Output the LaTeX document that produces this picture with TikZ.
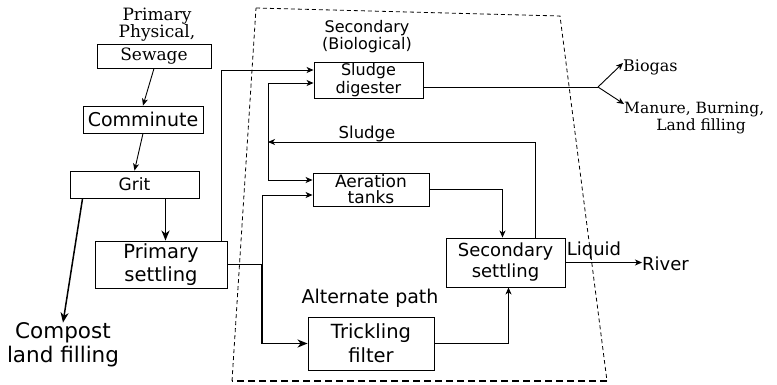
\documentclass[tikz,border=0pt]{standalone}
\usepackage{fontspec}
\setmainfont{DejaVu Sans}
\newfontfamily\serf{DejaVu Serif}
\usetikzlibrary{arrows.meta,calc}
\newcommand\fsz[2]{\fontsize{#1}{#2}\selectfont}
\begin{document}
\begin{tikzpicture}[x=1pt,y=-1pt,
  box/.style={draw,line width=0.9pt,inner sep=0pt,align=center},
  lbl/.style={inner sep=0pt,align=center},
  ln/.style={line width=0.9pt},
  arr/.style={ln,-{Stealth[length=7pt,width=6pt,inset=2pt]}},
  arrthick/.style={line width=1.5pt,-{Stealth[length=10pt,width=8pt,inset=3pt]}},
  bord/.style={line width=0.8pt,dash pattern=on 4pt off 3pt}]
\useasboundingbox (0,0) rectangle (777,384);

% dashed secondary region
\draw[bord] (256,8) -- (560,16) -- (607,381);
\draw[bord] (232,381) -- (256,8);
\draw[line width=1.6pt,dash pattern=on 7pt off 4pt] (607,381) -- (232,381);

% labels
\node[lbl,font=\serf\fsz{17}{17}] (pp) at (157,25) {Primary\\Physical,};
\node[lbl,font=\fsz{16}{17}] (sec) at (367,37) {Secondary\\(Biological)};
\node[lbl,font=\fsz{16.5}{18}] (slab) at (367,134) {Sludge};
\node[lbl,font=\fsz{19}{21}] (alt) at (370,298) {Alternate path};
\node[lbl,font=\fsz{18}{20}] (liq) at (594,251) {Liquid};
\node[lbl,font=\fsz{18}{20},anchor=west] (riv) at (642,264) {River};
\node[lbl,font=\serf\fsz{16}{17},anchor=west] (bio) at (623,67) {Biogas};
\node[lbl,font=\serf\fsz{15.5}{16},anchor=west] (man1) at (624,110) {Manure, Burning,};
\node[lbl,font=\serf\fsz{15.5}{16}] (man2) at (701,126) {Land filling};
\node[lbl,font=\fsz{21.5}{24}] (cmp) at (63,345) {Compost\\land filling};

% boxes
\node[box,minimum width=114,minimum height=24,font=\serf\fsz{17}{19}] (sew) at (154,56) {Sewage};
\node[box,minimum width=120,minimum height=27,font=\fsz{19}{21}] (com) at (143,119.5) {Comminute};
\node[box,minimum width=129,minimum height=27,font=\fsz{17}{19}] (grit) at (134.5,184.5) {Grit};
\node[box,minimum width=132,minimum height=47,font=\fsz{19.5}{23}] (ps) at (161,264.5) {Primary\\settling};
\node[box,minimum width=109,minimum height=36,font=\fsz{16}{17.5}] (sd) at (368.5,80) {Sludge\\digester};
\node[box,minimum width=116,minimum height=33,font=\fsz{17}{16}] (at) at (371,189.5) {Aeration\\tanks};
\node[box,minimum width=119,minimum height=49,font=\fsz{18}{21}] (ss) at (505.5,262.5) {Secondary\\settling};
\node[box,minimum width=126,minimum height=53,font=\fsz{19.5}{24}] (tf) at (371,343.5) {Trickling\\filter};

% helper coordinates
\coordinate (ya) at (0,83);
\coordinate (yb) at (0,180);
\coordinate (yc) at (0,195);
\coordinate (yd) at (0,70);
\coordinate (jn) at (268,142);
\coordinate (pj) at (262,264.5);
\coordinate (br) at (598,87);
\coordinate (g1) at ($(grit.south)+(31,0)$);
\coordinate (g2) at ($(grit.south west)+(13,0)$);
\coordinate (p1) at ($(ps.north east)+(-6,0)$);
\coordinate (s1) at ($(ss.north)+(30,0)$);
\coordinate (a1) at ($(ss.north)+(-3,0)$);
\coordinate (t1) at ($(ss.south)+(3,0)$);

% primary chain
\draw[arr] (sew.south) -- (com.north);
\draw[arr] (com.south) -- (grit.north);
\draw[arrthick] (g1) -- (g1 |- ps.north);
\draw[arrthick] (g2) -- (cmp.north);

% primary settling outputs
\draw[arr] (p1) |- (sd.west |- yd);
\draw[ln] (ps.east) -- (pj);
\draw[arr] (pj) |- (at.west |- yc);
\draw[arrthick] (pj) |- (tf.west);

% sludge recycle
\draw[arr] (s1) |- (jn);
\draw[arr] (jn) |- (sd.west |- ya);
\draw[arr] (jn) |- (at.west |- yb);

% secondary flows
\draw[arr] (at.east) -| (a1);
\draw[arr] (tf.east) -| (t1);
\draw[arr] (ss.east) -- (ss.east -| riv.west);

% digester outputs
\draw[ln] (sd.east |- br) -- (br);
\draw[arr] (br) -- ($(bio.west)+(0,-4)$);
\draw[arr] (br) -- ($(man1.west)+(0,-6)$);
\end{tikzpicture}
\end{document}
